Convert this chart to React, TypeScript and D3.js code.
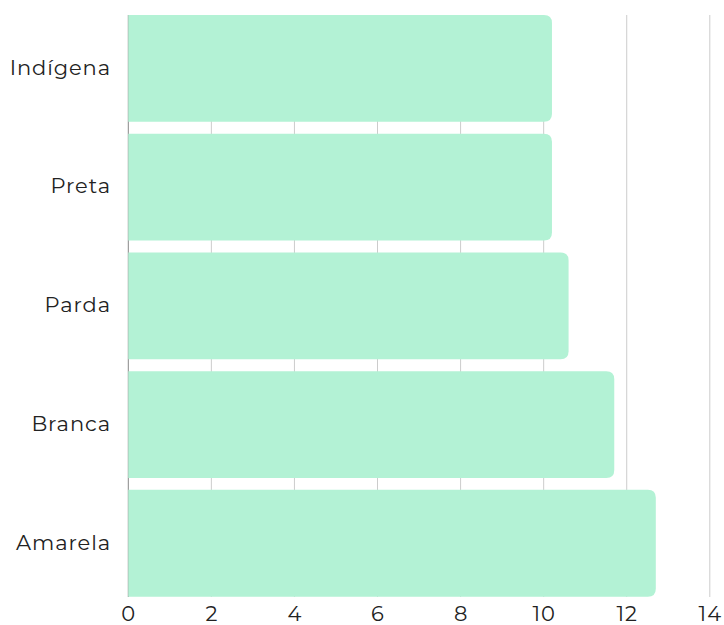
import React from "react";
import * as d3 from "d3";

const categories = ["Indígena", "Preta", "Parda", "Branca", "Amarela"];
const values = [10.2, 10.2, 10.6, 11.7, 12.7];
const ticks = [0, 2, 4, 6, 8, 10, 12, 14];

const W = 724;
const H = 625;

export default function App() {
  const x = d3.scaleLinear().domain([0, 14]).range([128.3, 709.8]);
  const y = d3
    .scaleBand<string>()
    .domain(categories)
    .range([15, 596.7])
    .paddingInner(0.1)
    .paddingOuter(0);
  const bw = y.bandwidth();
  const r = 8;
  const font = "Montserrat, 'Open Sans', sans-serif";

  const barPath = (v: number, y0: number) => {
    const x0 = x(0);
    const x1 = x(v);
    return `M${x0},${y0}H${x1 - r}Q${x1},${y0} ${x1},${y0 + r}V${y0 + bw - r}Q${x1},${y0 + bw} ${x1 - r},${y0 + bw}H${x0}Z`;
  };

  return (
    <svg width={W} height={H} style={{ position: "absolute", left: 0, top: 0 }}>
      {ticks.map((t) => (
        <line
          key={"g" + t}
          x1={x(t)}
          x2={x(t)}
          y1={15}
          y2={597}
          stroke={t === 0 ? "#888" : "#ccc"}
          strokeWidth={1}
        />
      ))}
      {categories.map((c, i) => (
        <path key={c} d={barPath(values[i], y(c)!)} fill="#b3f2d5" />
      ))}
      {categories.map((c) => (
        <text
          key={"l" + c}
          x={111}
          y={y(c)! + bw / 2}
          dy="0.3em"
          textAnchor="end"
          fontFamily={font}
          fontSize={21}
          letterSpacing={0.9}
          fill="#222"
        >
          {c}
        </text>
      ))}
      {ticks.map((t) => (
        <text
          key={"t" + t}
          x={x(t) + 0.5}
          y={621}
          textAnchor="middle"
          fontFamily={font}
          fontSize={21}
          letterSpacing={1}
          fill="#222"
        >
          {t}
        </text>
      ))}
    </svg>
  );
}
